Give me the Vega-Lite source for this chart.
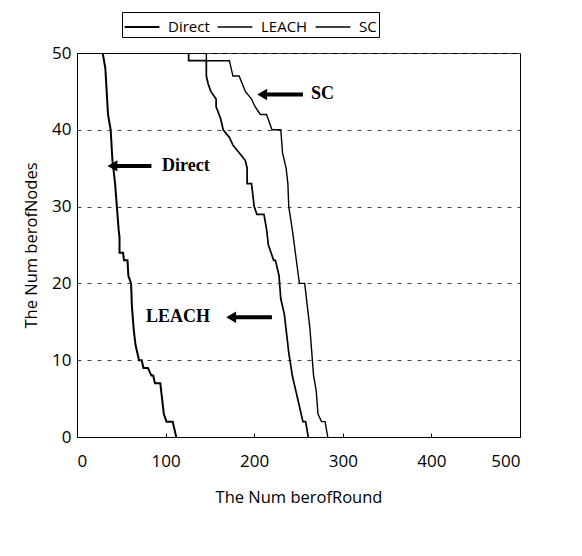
{
  "$schema": "https://vega.github.io/schema/vega-lite/v6.json",
  "width": 443,
  "height": 384,
  "autosize": {"type": "none"},
  "padding": {"left": 77, "top": 53, "right": 62, "bottom": 119},
  "background": "white",
  "config": {
    "view": {"stroke": "black", "strokeWidth": 1},
    "axis": {"labelFont": "Open Sans", "titleFont": "Open Sans", "labelColor": "black", "titleColor": "black", "domainColor": "black", "tickColor": "black", "titleFontWeight": "normal"}
  },
  "datasets": {
    "lines": [
      {"series": "Direct", "round": 0, "nodes": 50, "i": 0},
      {"series": "Direct", "round": 29, "nodes": 50, "i": 1},
      {"series": "Direct", "round": 32, "nodes": 48, "i": 2},
      {"series": "Direct", "round": 35, "nodes": 42, "i": 3},
      {"series": "Direct", "round": 38, "nodes": 40, "i": 4},
      {"series": "Direct", "round": 40, "nodes": 36, "i": 5},
      {"series": "Direct", "round": 43, "nodes": 33, "i": 6},
      {"series": "Direct", "round": 45, "nodes": 30, "i": 7},
      {"series": "Direct", "round": 47, "nodes": 27, "i": 8},
      {"series": "Direct", "round": 48, "nodes": 26, "i": 9},
      {"series": "Direct", "round": 48, "nodes": 24, "i": 10},
      {"series": "Direct", "round": 52, "nodes": 24, "i": 11},
      {"series": "Direct", "round": 53, "nodes": 23, "i": 12},
      {"series": "Direct", "round": 57, "nodes": 23, "i": 13},
      {"series": "Direct", "round": 58, "nodes": 21, "i": 14},
      {"series": "Direct", "round": 61, "nodes": 20, "i": 15},
      {"series": "Direct", "round": 62, "nodes": 17, "i": 16},
      {"series": "Direct", "round": 64, "nodes": 14, "i": 17},
      {"series": "Direct", "round": 66, "nodes": 12, "i": 18},
      {"series": "Direct", "round": 70, "nodes": 10, "i": 19},
      {"series": "Direct", "round": 73, "nodes": 10, "i": 20},
      {"series": "Direct", "round": 75, "nodes": 9, "i": 21},
      {"series": "Direct", "round": 80, "nodes": 9, "i": 22},
      {"series": "Direct", "round": 84, "nodes": 8, "i": 23},
      {"series": "Direct", "round": 86, "nodes": 8, "i": 24},
      {"series": "Direct", "round": 88, "nodes": 7, "i": 25},
      {"series": "Direct", "round": 94, "nodes": 7, "i": 26},
      {"series": "Direct", "round": 96, "nodes": 5, "i": 27},
      {"series": "Direct", "round": 98, "nodes": 3, "i": 28},
      {"series": "Direct", "round": 101, "nodes": 2, "i": 29},
      {"series": "Direct", "round": 108, "nodes": 2, "i": 30},
      {"series": "Direct", "round": 112, "nodes": 0, "i": 31},
      {"series": "LEACH", "round": 0, "nodes": 50, "i": 0},
      {"series": "LEACH", "round": 126, "nodes": 50, "i": 1},
      {"series": "LEACH", "round": 126, "nodes": 49, "i": 2},
      {"series": "LEACH", "round": 146, "nodes": 49, "i": 3},
      {"series": "LEACH", "round": 146, "nodes": 47, "i": 4},
      {"series": "LEACH", "round": 148, "nodes": 46, "i": 5},
      {"series": "LEACH", "round": 151, "nodes": 45, "i": 6},
      {"series": "LEACH", "round": 157, "nodes": 44, "i": 7},
      {"series": "LEACH", "round": 157, "nodes": 43, "i": 8},
      {"series": "LEACH", "round": 162, "nodes": 41.5, "i": 9},
      {"series": "LEACH", "round": 165, "nodes": 40, "i": 10},
      {"series": "LEACH", "round": 172, "nodes": 39, "i": 11},
      {"series": "LEACH", "round": 176, "nodes": 38, "i": 12},
      {"series": "LEACH", "round": 183, "nodes": 37, "i": 13},
      {"series": "LEACH", "round": 190, "nodes": 36, "i": 14},
      {"series": "LEACH", "round": 192, "nodes": 35, "i": 15},
      {"series": "LEACH", "round": 192, "nodes": 33, "i": 16},
      {"series": "LEACH", "round": 197, "nodes": 33, "i": 17},
      {"series": "LEACH", "round": 200, "nodes": 30, "i": 18},
      {"series": "LEACH", "round": 203, "nodes": 29, "i": 19},
      {"series": "LEACH", "round": 211, "nodes": 29, "i": 20},
      {"series": "LEACH", "round": 214, "nodes": 27, "i": 21},
      {"series": "LEACH", "round": 216, "nodes": 25, "i": 22},
      {"series": "LEACH", "round": 222, "nodes": 23, "i": 23},
      {"series": "LEACH", "round": 224, "nodes": 23, "i": 24},
      {"series": "LEACH", "round": 228, "nodes": 21, "i": 25},
      {"series": "LEACH", "round": 230, "nodes": 18, "i": 26},
      {"series": "LEACH", "round": 234, "nodes": 16, "i": 27},
      {"series": "LEACH", "round": 237, "nodes": 13, "i": 28},
      {"series": "LEACH", "round": 239, "nodes": 11, "i": 29},
      {"series": "LEACH", "round": 243, "nodes": 8, "i": 30},
      {"series": "LEACH", "round": 247, "nodes": 6, "i": 31},
      {"series": "LEACH", "round": 251, "nodes": 4, "i": 32},
      {"series": "LEACH", "round": 255, "nodes": 2, "i": 33},
      {"series": "LEACH", "round": 258, "nodes": 2, "i": 34},
      {"series": "LEACH", "round": 261, "nodes": 0, "i": 35},
      {"series": "SC", "round": 0, "nodes": 50, "i": 0},
      {"series": "SC", "round": 146, "nodes": 50, "i": 1},
      {"series": "SC", "round": 146, "nodes": 49, "i": 2},
      {"series": "SC", "round": 172, "nodes": 49, "i": 3},
      {"series": "SC", "round": 176, "nodes": 47, "i": 4},
      {"series": "SC", "round": 183, "nodes": 47, "i": 5},
      {"series": "SC", "round": 190, "nodes": 45, "i": 6},
      {"series": "SC", "round": 197, "nodes": 44, "i": 7},
      {"series": "SC", "round": 201, "nodes": 43, "i": 8},
      {"series": "SC", "round": 207, "nodes": 42, "i": 9},
      {"series": "SC", "round": 214, "nodes": 42, "i": 10},
      {"series": "SC", "round": 220, "nodes": 40, "i": 11},
      {"series": "SC", "round": 230, "nodes": 40, "i": 12},
      {"series": "SC", "round": 232, "nodes": 37, "i": 13},
      {"series": "SC", "round": 236, "nodes": 35, "i": 14},
      {"series": "SC", "round": 238, "nodes": 33, "i": 15},
      {"series": "SC", "round": 239, "nodes": 30, "i": 16},
      {"series": "SC", "round": 243, "nodes": 27, "i": 17},
      {"series": "SC", "round": 247, "nodes": 23.5, "i": 18},
      {"series": "SC", "round": 251, "nodes": 20, "i": 19},
      {"series": "SC", "round": 257, "nodes": 20, "i": 20},
      {"series": "SC", "round": 260, "nodes": 17, "i": 21},
      {"series": "SC", "round": 263, "nodes": 14, "i": 22},
      {"series": "SC", "round": 265, "nodes": 11, "i": 23},
      {"series": "SC", "round": 267, "nodes": 8, "i": 24},
      {"series": "SC", "round": 270, "nodes": 6, "i": 25},
      {"series": "SC", "round": 272, "nodes": 3, "i": 26},
      {"series": "SC", "round": 276, "nodes": 2, "i": 27},
      {"series": "SC", "round": 280, "nodes": 2, "i": 28},
      {"series": "SC", "round": 283, "nodes": 0, "i": 29}
    ],
    "notes": [
      {"label": "Direct", "head": 40, "tail": 84, "ay": 35.3, "tx": 96, "ty": 35.3},
      {"label": "SC", "head": 209, "tail": 255, "ay": 44.6, "tx": 264, "ty": 44.6},
      {"label": "LEACH", "head": 174, "tail": 220, "ay": 15.6, "tx": 78, "ty": 15.6}
    ]
  },
  "layer": [
    {
      "data": {"name": "lines"},
      "mark": {"type": "line", "clip": true},
      "encoding": {
        "x": {"field": "round", "type": "quantitative", "scale": {"domain": [0, 500]},
          "axis": {"title": "The Num berofRound", "values": [0, 100, 200, 300, 400, 500], "grid": false, "labelFontSize": 17, "titleFontSize": 16.5, "labelPadding": 20, "titlePadding": 20, "tickSize": -4}},
        "y": {"field": "nodes", "type": "quantitative", "scale": {"domain": [0, 50]},
          "axis": {"title": "The Num berofNodes", "values": [0, 10, 20, 30, 40, 50], "grid": true, "gridDash": [4, 6], "gridColor": "#444", "labelFontSize": 17, "titleFontSize": 16.5, "labelPadding": 6, "titlePadding": 12, "tickSize": 0}},
        "color": {"field": "series", "type": "nominal",
          "scale": {"domain": ["Direct", "LEACH", "SC"], "range": ["black", "black", "black"]},
          "legend": {"title": null, "orient": "none", "legendX": 45, "legendY": -41, "direction": "horizontal",
            "symbolType": "M-1.45,0H1.45", "symbolSize": 576, "symbolOffset": 5, "symbolStrokeWidth": 1.5, "labelFont": "Open Sans", "labelFontSize": 15,
            "labelColor": "black", "strokeColor": "black", "padding": 2, "columnPadding": 4, "labelOffset": 13}},
        "strokeWidth": {"field": "series", "type": "nominal",
          "scale": {"domain": ["Direct", "LEACH", "SC"], "range": [2, 1.4, 1.4]}, "legend": null},
        "order": {"field": "i", "type": "quantitative"}
      }
    },
    {
      "data": {"name": "notes"},
      "mark": {"type": "rule", "strokeWidth": 4, "color": "black"},
      "encoding": {
        "x": {"field": "head", "type": "quantitative"},
        "x2": {"field": "tail"},
        "y": {"field": "ay", "type": "quantitative"}
      }
    },
    {
      "data": {"name": "notes"},
      "mark": {"type": "point", "shape": "triangle-left", "filled": true, "color": "black", "size": 130, "opacity": 1, "dx": 4},
      "encoding": {
        "x": {"field": "head", "type": "quantitative"},
        "y": {"field": "ay", "type": "quantitative"}
      }
    },
    {
      "data": {"name": "notes"},
      "mark": {"type": "text", "align": "left", "baseline": "middle", "font": "Liberation Serif", "fontWeight": "bold", "fontSize": 18, "color": "black"},
      "encoding": {
        "x": {"field": "tx", "type": "quantitative"},
        "y": {"field": "ty", "type": "quantitative"},
        "text": {"field": "label"}
      }
    }
  ]
}
